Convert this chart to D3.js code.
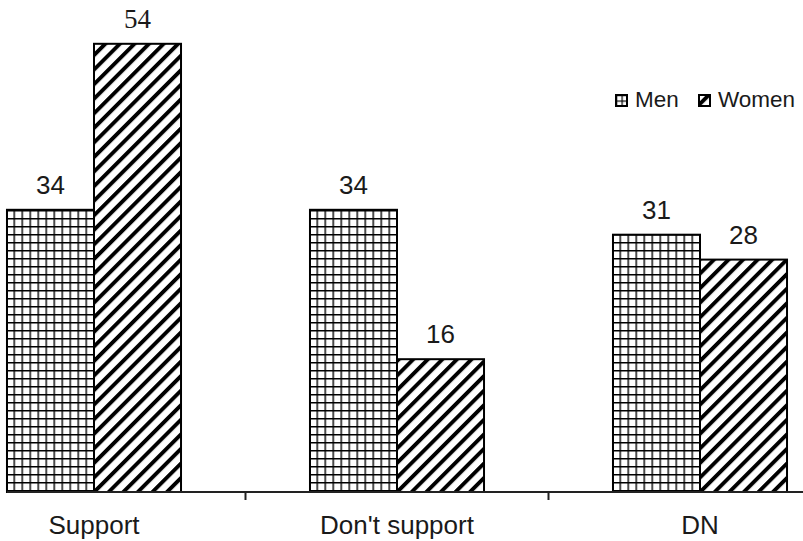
<!DOCTYPE html>
<html><head><meta charset="utf-8">
<script src="https://cdn.jsdelivr.net/npm/d3@7"></script>
<style>html,body{margin:0;padding:0;background:#fff;}svg{display:block;}</style>
</head><body>
<script>
const categories = ["Support", "Don't support", "DN"];
const seriesNames = ["Men", "Women"];
const menValues = [34, 34, 31];
const womenValues = [54, 16, 28];

const W = 803, H = 541;
const baseY = 492;
const svg = d3.select("body").append("svg").attr("width", W).attr("height", H);
const defs = svg.append("defs");

// grid pattern (Men)
const pg = defs.append("pattern").attr("id","grid").attr("patternUnits","userSpaceOnUse")
  .attr("width",8).attr("height",8).attr("x",7).attr("y",2);
pg.append("rect").attr("width",8).attr("height",8).attr("fill","#fff");
pg.append("path").attr("d","M0,0H8M0,0V8").attr("stroke","#000").attr("stroke-width",2.8).attr("fill","none");

// small grid for legend icon
const pgl = defs.append("pattern").attr("id","gridL").attr("patternUnits","userSpaceOnUse")
  .attr("width",5.5).attr("height",5.5).attr("x",616).attr("y",95);
pgl.append("rect").attr("width",5.5).attr("height",5.5).attr("fill","#fff");
pgl.append("path").attr("d","M0,0H5.5M0,0V5.5").attr("stroke","#000").attr("stroke-width",2.4).attr("fill","none");

// diagonal hatch (Women)
const ph = defs.append("pattern").attr("id","hatch").attr("patternUnits","userSpaceOnUse")
  .attr("width",10.3).attr("height",10.3).attr("patternTransform","rotate(45)");
ph.append("rect").attr("width",10.3).attr("height",10.3).attr("fill","#fff");
ph.append("rect").attr("x",0).attr("y",0).attr("width",3.9).attr("height",10.3).attr("fill","#000");

const x0 = d3.scaleBand().domain(categories).range([-57.5, 851.5]).paddingInner(0).paddingOuter(0);
const x1 = d3.scaleBand().domain(seriesNames).range([0, x0.bandwidth()]).paddingInner(0).paddingOuter(0.741);
const y = d3.scaleLinear().domain([0, 54]).range([baseY, baseY - 54*8.3]);

const data = categories.map((c,i)=>({cat:c, vals:[{s:"Men",v:menValues[i]},{s:"Women",v:womenValues[i]}]}));

const g = svg.append("g");
const groups = g.selectAll("g.cat").data(data).join("g").attr("class","cat")
  .attr("transform", d=>`translate(${x0(d.cat)},0)`);

groups.selectAll("rect").data(d=>d.vals).join("rect")
  .attr("x", d=>x1(d.s)).attr("width", x1.bandwidth())
  .attr("y", d=>y(d.v)).attr("height", d=>baseY - y(d.v))
  .attr("fill", d=> d.s==="Men" ? "url(#grid)" : "url(#hatch)")
  .attr("stroke","#000").attr("stroke-width",2);

groups.selectAll("text").data(d=>d.vals).join("text")
  .attr("x", d=>x1(d.s) + x1.bandwidth()/2)
  .attr("y", d=>y(d.v) - 16)
  .attr("text-anchor","middle")
  .attr("font-family", d=> d.v===54 ? "Liberation Serif, serif" : "Liberation Sans, Arial, sans-serif")
  .attr("font-size", d=> d.v===54 ? 27 : 26).attr("fill","#1a1a1a")
  .text(d=>d.v);

// axis
const axisLeft = x0(categories[0]) + x1(seriesNames[0]);
svg.append("line").attr("x1", axisLeft).attr("x2", W).attr("y1", baseY).attr("y2", baseY)
  .attr("stroke","#222").attr("stroke-width",2);
categories.slice(1).forEach(c=>{
  const tx = x0(c);
  svg.append("line").attr("x1",tx).attr("x2",tx).attr("y1",baseY).attr("y2",baseY+8)
    .attr("stroke","#222").attr("stroke-width",2);
});
svg.selectAll("text.cat").data(categories).join("text").attr("class","cat")
  .attr("x", c=>x0(c)+x0.bandwidth()/2).attr("y", 534)
  .attr("text-anchor","middle").attr("font-family","Liberation Sans, Arial, sans-serif")
  .attr("font-size",26).attr("fill","#1a1a1a").text(c=>c);

// legend
const leg = svg.append("g");
const legX = [615, 698];
seriesNames.forEach((s,i)=>{
  leg.append("rect").attr("x",legX[i]+1).attr("y",95).attr("width",11).attr("height",11)
    .attr("fill", s==="Men" ? "url(#gridL)" : "url(#hatch)").attr("stroke","#000").attr("stroke-width",2);
  leg.append("text").attr("x", legX[i]+20).attr("y",107)
    .attr("font-family","Liberation Sans, Arial, sans-serif").attr("font-size",22.5).attr("fill","#1a1a1a").text(s);
});
</script>
</body></html>
